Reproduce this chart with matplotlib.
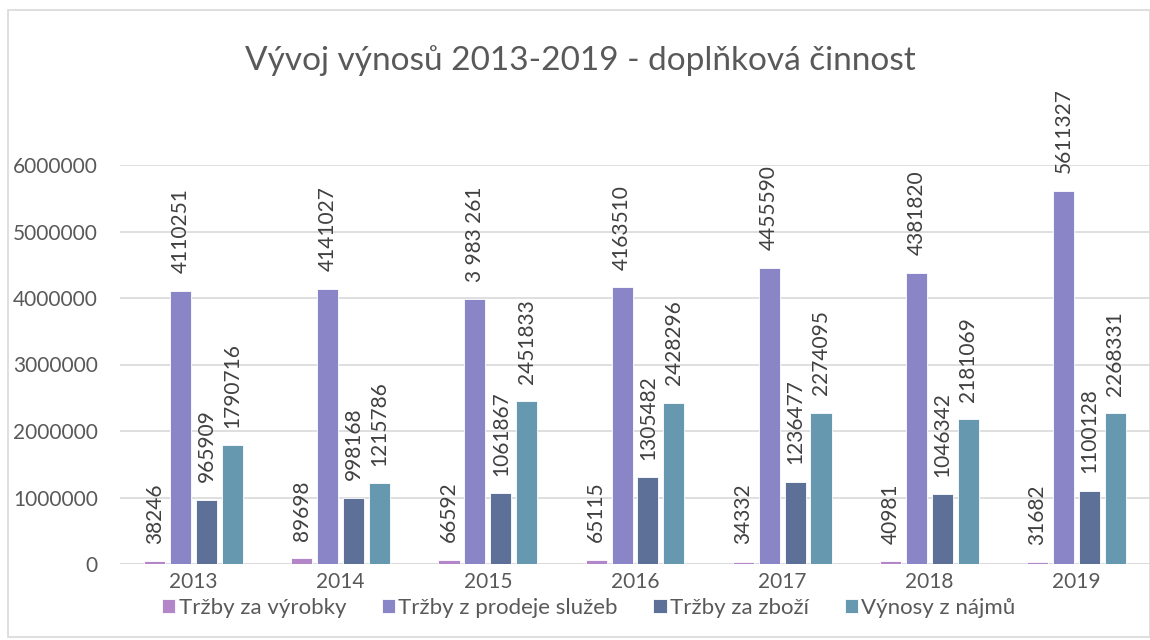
import matplotlib
matplotlib.use("Agg")
import matplotlib.pyplot as plt
from matplotlib.patches import Rectangle
import numpy as np

plt.rcParams['font.family'] = ['Lato', 'DejaVu Sans']

years = ["2013", "2014", "2015", "2016", "2017", "2018", "2019"]
series_names = ["Tržby za výrobky", "Tržby z prodeje služeb", "Tržby za zboží", "Výnosy z nájmů"]
vyrobky = [38246, 89698, 66592, 65115, 34332, 40981, 31682]
sluzby = [4110251, 4141027, 3983261, 4163510, 4455590, 4381820, 5611327]
zbozi = [965909, 998168, 1061867, 1305482, 1236477, 1046342, 1100128]
najmy = [1790716, 1215786, 2451833, 2428296, 2274095, 2181069, 2268331]
label_texts = [
    ["38246", "89698", "66592", "65115", "34332", "40981", "31682"],
    ["4110251", "4141027", "3 983 261", "4163510", "4455590", "4381820", "5611327"],
    ["965909", "998168", "1061867", "1305482", "1236477", "1046342", "1100128"],
    ["1790716", "1215786", "2451833", "2428296", "2274095", "2181069", "2268331"],
]
colors = ["#B286C9", "#8985C6", "#5D7097", "#6699B0"]

fig = plt.figure(figsize=(11.5, 6.4), dpi=100)
fig.patches.append(Rectangle((8/1150, 3/640), 1 - 8/1150, 1 - 13/640, transform=fig.transFigure,
                             fill=False, edgecolor="#D9D9D9", linewidth=1.2))
ax = fig.add_axes([120/1150, (640-564)/640, 1 - 120/1150, (564-165)/640])

x = np.arange(len(years))
step = 0.176
width = 0.143
data = [vyrobky, sluzby, zbozi, najmy]
for i, (vals, col, name) in enumerate(zip(data, colors, series_names)):
    pos = x + (i - 1.5) * step
    ax.bar(pos, vals, width=width, color=col, label=name, zorder=3,
           edgecolor="white", linewidth=0.6)
    for xp, v, t in zip(pos, vals, label_texts[i]):
        ax.annotate(t, (xp, v), xytext=(0, 12.5), textcoords="offset points",
                    rotation=90, ha="center", va="bottom", fontsize=15,
                    color="#404040", annotation_clip=False)

ax.set_xlim(-0.5, 6.5)
ax.set_ylim(0, 6000000)
ax.set_yticks(np.arange(0, 6000001, 1000000))
ax.set_yticklabels([str(v) for v in range(0, 6000001, 1000000)])
ax.set_xticks(x)
ax.set_xticklabels(years)
ax.grid(axis="y", color="#D9D9D9", linewidth=1.2, zorder=0)
for s in ax.spines.values():
    s.set_visible(False)
ax.axhline(0, color="#D9D9D9", linewidth=1.2, zorder=2)
ax.tick_params(axis="both", length=0, labelsize=15, labelcolor="#595959")
ax.tick_params(axis="y", pad=16)
ax.tick_params(axis="x", pad=6)

fig.text(0.505, 0.905, "Vývoj výnosů 2013-2019 - doplňková činnost", ha="center", va="center",
         fontsize=24, color="#595959")

leg = fig.legend(loc="center", bbox_to_anchor=(0.512, 0.05), ncol=4, frameon=False,
                 fontsize=16, handlelength=0.6, handleheight=0.6, handletextpad=0.15,
                 columnspacing=1.6)
for t in leg.get_texts():
    t.set_color("#595959")

fig.savefig("out.png", dpi=100)
